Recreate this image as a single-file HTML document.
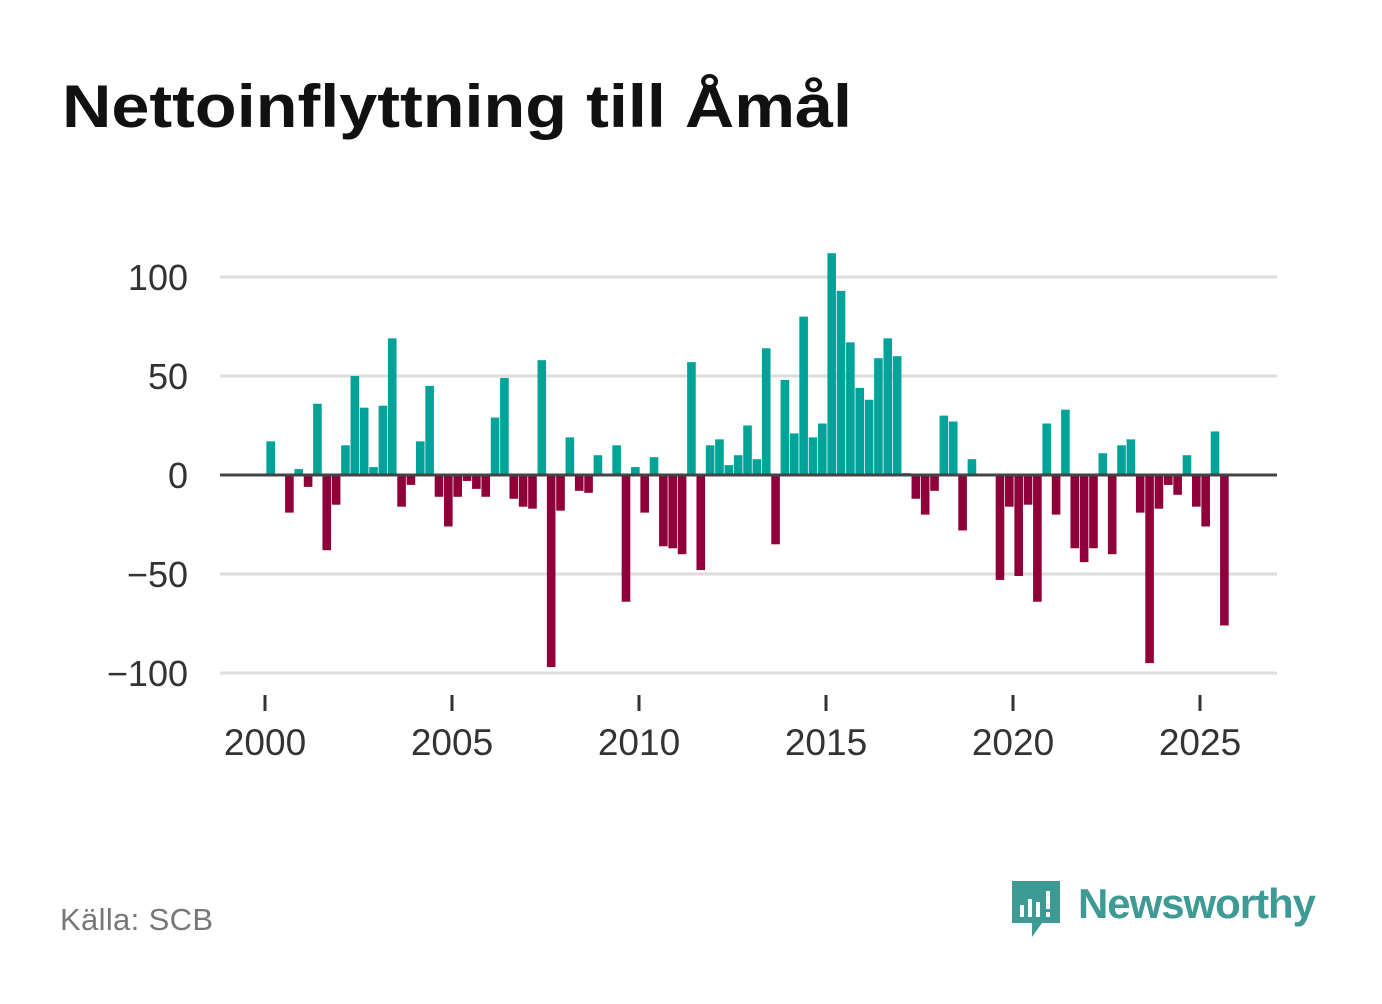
<!DOCTYPE html>
<html><head><meta charset="utf-8"><style>
body{margin:0;background:#fff;width:1382px;height:999px;overflow:hidden;font-family:"Liberation Sans",sans-serif}
</style></head><body>
<svg width="1382" height="999" xmlns="http://www.w3.org/2000/svg">
<text x="62" y="127" font-size="60" font-weight="bold" fill="#111" textLength="790" lengthAdjust="spacingAndGlyphs">Nettoinflyttning till Åmål</text>
<g id="grid"></g>
<g id="bars"></g>
<g id="xaxis"></g>
<text x="60" y="930" font-size="31" fill="#777" textLength="153">Källa: SCB</text>
<g>
<path d="M1012 881h48v42h-18l-10 14v-14h-20z" fill="#3d9a94"/>
<rect x="1020" y="905" width="4" height="12" fill="#fff"/><rect x="1028" y="899" width="4" height="18" fill="#fff"/><rect x="1036" y="902" width="4" height="15" fill="#fff"/><rect x="1046" y="891" width="4" height="18" fill="#fff"/><rect x="1046" y="912" width="4" height="5" fill="#fff"/>
<text x="1078" y="918" font-size="42" font-weight="bold" fill="#3d9a94" textLength="238">Newsworthy</text>
</g>
</svg>
<script>
const values=[17,0,-19,3,-6,36,-38,-15,15,50,34,4,35,69,-16,-5,17,45,-11,-26,-11,-3,-7,-11,29,49,-12,-16,-17,58,-97,-18,19,-8,-9,10,0,15,-64,4,-19,9,-36,-37,-40,57,-48,15,18,5,10,25,8,64,-35,48,21,80,19,26,112,93,67,44,38,59,69,60,1,-12,-20,-8,30,27,-28,8,0,0,-53,-16,-51,-15,-64,26,-20,33,-37,-44,-37,11,-40,15,18,-19,-95,-17,-5,-10,10,-16,-26,22,-76];
const yTicks=[100,50,0,-50,-100];
const yTickLabels=["100","50","0","−50","−100"];
const xTicks=[2000,2005,2010,2015,2020,2025];
const NS="http://www.w3.org/2000/svg";
const y=v=>475-v*1.98;
const x=yr=>265+(yr-2000)*37.4;
const grid=document.getElementById('grid'),bars=document.getElementById('bars'),xa=document.getElementById('xaxis');
function mk(tag,attrs,parent){const e=document.createElementNS(NS,tag);for(const k in attrs)e.setAttribute(k,attrs[k]);parent.appendChild(e);return e;}
let zero=null;
yTicks.forEach((t,i)=>{
 const l=mk('line',{x1:220,x2:1277,y1:y(t),y2:y(t),stroke:t===0?'#444':'#ddd','stroke-width':3},grid);
 
 
 if(t===0)zero=l;
 const tx=mk('text',{x:188,y:y(t)+13,'text-anchor':'end','font-size':36,fill:'#333'},grid);
 tx.textContent=yTickLabels[i];
 
 
});
values.forEach((v,i)=>{
 if(v===0)return;
 const cx=x(2000+(i+0.5)/4)+1;
 const r=mk('rect',{x:cx-4.3,width:8.6,y:Math.min(y(v),y(0)),height:Math.abs(y(v)-y(0)),fill:v>0?'#00a397':'#8f003b'},bars);
 
 
});
bars.after(zero);
xTicks.forEach(t=>{
 const l=mk('line',{x1:x(t),x2:x(t),y1:695,y2:711,stroke:'#333','stroke-width':3},xa);
 
 
 const tx=mk('text',{x:x(t),y:755,'text-anchor':'middle','font-size':37,fill:'#333'},xa);
 tx.textContent=t;
 
 
});
</script>
</body></html>
